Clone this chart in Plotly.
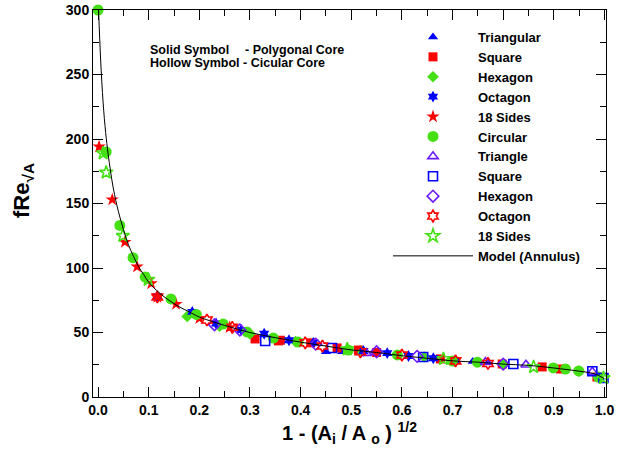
import plotly.graph_objects as go

# ---------------- data ----------------
tri_x = [0.45, 0.482, 0.74, 0.77, 0.99]
tri_y = [35.0, 35.0, 27.5, 26.5, 15.0]

sq_x = [0.31, 0.356, 0.36, 0.42, 0.472, 0.514, 0.55, 0.676, 0.798, 0.877, 0.913, 0.985]
sq_y = [45.0, 43.5, 44.0, 42.0, 38.0, 36.4, 34.5, 29.5, 25.6, 23.3, 21.7, 15.5]

hex_x = [0.176, 0.24, 0.30, 0.39, 0.52, 0.644, 0.80, 0.95]
hex_y = [62.5, 55.0, 49.0, 43.0, 35.5, 31.0, 25.5, 20.0]

oct_x = [0.117, 0.186, 0.233, 0.283, 0.328, 0.377, 0.425, 0.524, 0.571, 0.613, 0.662, 0.705]
oct_y = [78.0, 66.0, 57.0, 52.0, 49.0, 44.0, 42.0, 35.7, 34.0, 31.8, 30.0, 28.0]

s18_x = [0.002, 0.028, 0.053, 0.077, 0.105, 0.117, 0.154, 0.20, 0.26]
s18_y = [194.0, 153.0, 120.0, 101.0, 88.0, 77.5, 72.0, 61.0, 54.0]

cir_x = [0.0, 0.016, 0.043, 0.069, 0.093, 0.144, 0.194, 0.247, 0.294, 0.346, 0.395,
         0.494, 0.591, 0.70, 0.749, 0.899, 0.923, 0.949, 0.988]
cir_y = [300.0, 190.0, 133.0, 108.0, 93.0, 76.0, 64.0, 56.5, 50.4, 45.7, 42.6,
         36.4, 32.6, 27.9, 27.0, 22.5, 21.7, 20.2, 15.5]

htri_x = [0.53, 0.765, 0.845, 0.976]
htri_y = [34.0, 27.0, 25.0, 19.5]

hsq_x = [0.33, 0.462, 0.642, 0.82, 0.976, 0.998]
hsq_y = [43.4, 38.0, 31.0, 25.6, 20.0, 14.7]

hhex_x = [0.23, 0.28, 0.43, 0.55, 0.63, 0.80]
hhex_y = [56.0, 52.0, 41.0, 35.0, 31.5, 25.5]

hoct_x = [0.117, 0.215, 0.265, 0.409, 0.443, 0.518, 0.60, 0.706, 0.77]
hoct_y = [77.5, 59.7, 54.0, 42.0, 39.5, 35.0, 32.5, 28.0, 26.0]

hs18_x = [0.01, 0.016, 0.049, 0.099, 0.492, 0.682, 0.86, 0.998]
hs18_y = [189.0, 174.0, 125.0, 91.0, 37.0, 29.5, 23.3, 14.7]

model_x = [0.001, 0.005, 0.01, 0.015, 0.02, 0.03, 0.04, 0.05, 0.06, 0.07, 0.08, 0.09,
           0.10, 0.12, 0.14, 0.16, 0.18, 0.20, 0.25, 0.30, 0.35, 0.40, 0.45, 0.50,
           0.55, 0.60, 0.65, 0.70, 0.75, 0.80, 0.85, 0.90, 0.95, 0.98, 1.0]
model_y = [300, 262, 228, 205, 188, 162, 144, 130, 118, 109, 101, 95,
           89, 81, 75, 70, 66, 62, 55.5, 50, 46, 42.5, 39.5, 36.5,
           34.5, 32, 30, 28, 27, 25.5, 24.5, 22.5, 20, 18, 14.2]

x_ticks = [0.0, 0.1, 0.2, 0.3, 0.4, 0.5, 0.6, 0.7, 0.8, 0.9, 1.0]
y_ticks = [0, 50, 100, 150, 200, 250, 300]

BLUE = "#0000ff"
RED = "#ff0000"
GREEN = "#44e014"
PURPLE = "#6a1aff"

series = [
    ("Triangular", tri_x, tri_y, "triangle-up", BLUE, 9),
    ("Square", sq_x, sq_y, "square", RED, 9),
    ("Hexagon", hex_x, hex_y, "diamond", GREEN, 9),
    ("Octagon", oct_x, oct_y, "hexagram", BLUE, 9),
    ("18 Sides", s18_x, s18_y, "star", RED, 10),
    ("Circular", cir_x, cir_y, "circle", GREEN, 11),
    ("Triangle", htri_x, htri_y, "triangle-up-open", PURPLE, 9),
    ("Square", hsq_x, hsq_y, "square-open", BLUE, 9),
    ("Hexagon", hhex_x, hhex_y, "diamond-open", PURPLE, 9),
    ("Octagon", hoct_x, hoct_y, "hexagram-open", RED, 9),
    ("18 Sides", hs18_x, hs18_y, "star-open", GREEN, 10),
]

FONT = "Arial, Liberation Sans, sans-serif"

fig = go.Figure()
for name, xs, ys, sym, col, size in series:
    fig.add_trace(go.Scatter(
        x=xs, y=ys, mode="markers", name=name, cliponaxis=False,
        marker=dict(symbol=sym, color=col, size=size,
                    line=dict(color=col, width=1.6 if "open" in sym else 0)),
    ))

fig.add_trace(go.Scatter(
    x=model_x, y=model_y, mode="lines", name="Model (Annulus)",
    line=dict(color="black", width=1, shape="spline"),
))

axis_common = dict(
    showline=True, linecolor="black", linewidth=1, mirror="allticks",
    ticks="inside", ticklen=10, tickcolor="black", tickwidth=1,
    showgrid=False, zeroline=False, automargin=False,
    tickfont=dict(family=FONT, size=14, color="black", weight="bold"),
)

fig.update_xaxes(
    range=[-0.01, 1.003], tickvals=x_ticks, ticktext=[f"{v:.1f}" for v in x_ticks],
    minor=dict(dtick=0.05, tick0=0, ticks="inside", ticklen=6, tickcolor="black"),
    title=dict(text="1 - (A<sub>i</sub> / A <sub>o</sub> ) <sup>1/2</sup>",
               font=dict(family=FONT, size=20, color="black", weight="bold"),
               standoff=9),
    **axis_common,
)
fig.update_yaxes(
    range=[0, 300], tickvals=y_ticks,
    minor=dict(dtick=25, tick0=0, ticks="inside", ticklen=6, tickcolor="black"),
    **axis_common,
)

# y-axis title (placed as annotation to match reference position)
fig.add_annotation(
    text="fRe<sub>√A</sub>", xref="paper", yref="paper",
    x=(23 - 93) / 513, y=1 - (191 - 10) / 387, textangle=-90,
    xanchor="center", yanchor="middle", showarrow=False,
    font=dict(family=FONT, size=22, color="black", weight="bold"),
)

for txt, xx, yy in [("Solid Symbol", 148, 50), ("- Polygonal Core", 243, 50),
                    ("Hollow Symbol - Cicular Core", 148, 63)]:
    fig.add_annotation(
        text=txt, xref="paper", yref="paper",
        x=(xx - 93) / 513, y=1 - (yy - 10) / 387,
        xanchor="left", yanchor="middle", showarrow=False,
        font=dict(family=FONT, size=12.5, color="black", weight="bold"),
    )

fig.update_layout(
    width=644, height=452,
    margin=dict(l=93, r=38, t=10, b=55),
    paper_bgcolor="white", plot_bgcolor="white",
    showlegend=True,
    legend=dict(
        x=(388 - 93) / 513, y=1 - (22 - 10) / 387, xanchor="left", yanchor="top",
        bgcolor="rgba(0,0,0,0)", borderwidth=0, itemwidth=80,
        font=dict(family=FONT, size=13, color="black", weight="bold"),
        tracegroupgap=0,
    ),
)

fig.write_html("out.html")
